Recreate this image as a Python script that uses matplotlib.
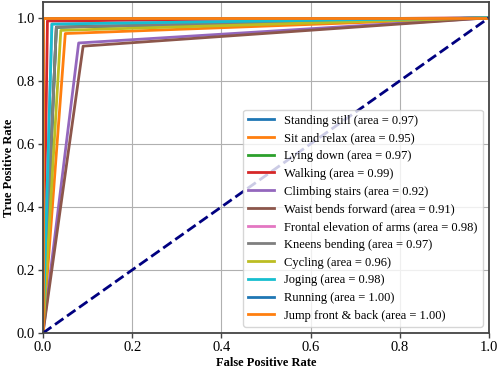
import numpy as np
import matplotlib.pyplot as plt

plt.rcParams['font.family'] = ['Liberation Serif', 'DejaVu Serif']

classes = ["Standing still", "Sit and relax", "Lying down", "Walking",
           "Climbing stairs", "Waist bends forward", "Frontal elevation of arms",
           "Kneens bending", "Cycling", "Joging", "Running", "Jump front & back"]
fpr_knee = [0.03, 0.05, 0.03, 0.01, 0.08, 0.09, 0.02, 0.03, 0.04, 0.02, 0.0, 0.0]
tpr_knee = [0.97, 0.95, 0.97, 0.99, 0.92, 0.91, 0.98, 0.97, 0.96, 0.98, 1.0, 1.0]
areas = [0.97, 0.95, 0.97, 0.99, 0.92, 0.91, 0.98, 0.97, 0.96, 0.98, 1.00, 1.00]
colors = ["#1f77b4", "#ff7f0e", "#2ca02c", "#d62728", "#9467bd", "#8c564b",
          "#e377c2", "#7f7f7f", "#bcbd22", "#17becf", "#1f77b4", "#ff7f0e"]

fig = plt.figure(figsize=(4.98, 3.71), dpi=100)
ax = fig.add_axes([0.0863, 0.1024, 0.8957, 0.8922])

for i, name in enumerate(classes):
    fpr = [0, fpr_knee[i], 1]
    tpr = [0, tpr_knee[i], 1]
    ax.plot(fpr, tpr, color=colors[i], lw=2,
            label="%s (area = %0.2f)" % (name, areas[i]))

ax.plot([0, 1], [0, 1], color="navy", lw=2, linestyle="--")
ax.set_xlim(0.0, 1.0)
ax.set_ylim(0.0, 1.05)
ax.grid(True, color="#b0b0b0", lw=0.8)
ax.set_axisbelow(True)
for s in ax.spines.values():
    s.set_color("#444444")
    s.set_linewidth(1.3)
ax.tick_params(labelsize=10.5, color="#444444", width=1.0, pad=2.5)
ax.set_xlabel("False Positive Rate", fontsize=9, fontweight="bold", labelpad=2)
ax.set_ylabel("True Positive Rate", fontsize=9, fontweight="bold", labelpad=1)
ax.legend(loc="lower right", fontsize=9, labelspacing=0.46, handlelength=2.1,
          borderaxespad=0.5, fancybox=True)

plt.savefig("out.png", dpi=100)
